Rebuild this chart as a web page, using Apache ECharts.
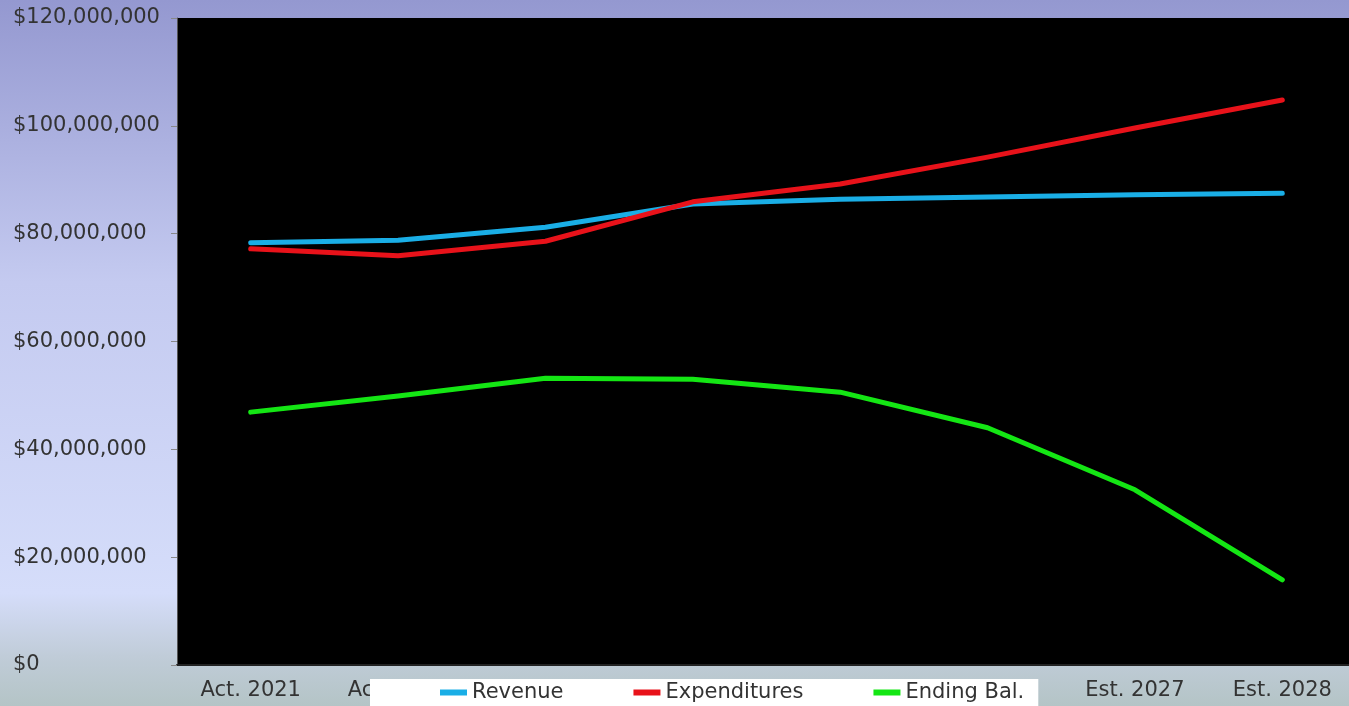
<!DOCTYPE html>
<html>
<head>
<meta charset="utf-8">
<script src="https://cdn.jsdelivr.net/npm/echarts@6/dist/echarts.min.js"></script>
<style>
  html, body { margin: 0; padding: 0; overflow: hidden; }
  #container { width: 1356px; height: 706px; }
</style>
</head>
<body>
<div id="container"></div>
<script>
// chart values (in dollars)
const years = ['Act. 2021', 'Act. 2022', 'Act. 2023', 'Est. 2024', 'Est. 2025', 'Est. 2026', 'Est. 2027', 'Est. 2028'];
const revenue = [78300000, 78800000, 81200000, 85500000, 86400000, 86800000, 87200000, 87500000];
const expenditures = [77200000, 75900000, 78600000, 85900000, 89200000, 94200000, 99600000, 104800000];
const endingBal = [46900000, 49900000, 53200000, 53000000, 50600000, 44000000, 32500000, 15800000];
const yTicks = [0, 20000000, 40000000, 60000000, 80000000, 100000000, 120000000];

// plot runs a few px past the window on the right, like the screenshot
const chart = echarts.init(document.getElementById('container'), null, { renderer: 'canvas' });

const money = v => '$' + Number(v).toLocaleString('en-US');
const lineStyle = color => ({ color: color, width: 5, cap: 'round', join: 'round' });

const option = {
    backgroundColor: {
        type: 'linear', x: 0, y: 0, x2: 0, y2: 1,
        colorStops: [
            { offset: 0, color: '#9498d0' },
            { offset: 0.4, color: '#c4caf0' },
            { offset: 0.84, color: '#d5ddfa' },
            { offset: 0.93, color: '#c0ccd8' },
            { offset: 1, color: '#b4c4c6' }
        ]
    },
    animation: false,
    textStyle: { fontFamily: 'DejaVu Sans' },
    grid: {
        left: 177, top: 18, right: 0, bottom: 41,
        show: true, backgroundColor: '#000', borderWidth: 0
    },
    legend: {
        left: 370, top: 679,
        backgroundColor: '#fff',
        borderRadius: 0,
        padding: [3, 14, 14, 70],
        itemGap: 70,
        itemWidth: 27, itemHeight: 6,
        icon: 'rect',
        z: 10,
        textStyle: { fontSize: 21, color: '#333', fontFamily: 'DejaVu Sans' },
        data: [
            { name: 'Revenue' },
            { name: 'Expenditures' },
            { name: 'Ending Bal.$', textStyle: { width: 126, overflow: 'truncate', ellipsis: '' } }
        ]
    },
    xAxis: {
        type: 'category',
        data: years,
        boundaryGap: true,
        axisLine: { lineStyle: { color: '#222', width: 2 } },
        axisTick: { length: 6, lineStyle: { color: '#111', width: 2 } },
        axisLabel: { color: '#333', fontSize: 21, margin: 15 },
        splitLine: { show: false }
    },
    yAxis: {
        type: 'value',
        min: yTicks[0],
        max: yTicks[yTicks.length - 1],
        interval: yTicks[1] - yTicks[0],
        axisLine: { show: true, lineStyle: { color: '#555', width: 1 } },
        axisTick: { show: true, length: 6, lineStyle: { color: '#888' } },
        axisLabel: { color: '#333', fontSize: 21, align: 'left', margin: 164, formatter: money },
        splitLine: { show: false }
    },
    series: [
        { name: 'Revenue', type: 'line', data: revenue, showSymbol: false, symbol: 'none', itemStyle: { color: '#1aaee6' }, lineStyle: lineStyle('#1aaee6') },
        { name: 'Expenditures', type: 'line', data: expenditures, showSymbol: false, symbol: 'none', itemStyle: { color: '#e8121a' }, lineStyle: lineStyle('#e8121a') },
        { name: 'Ending Bal.$', type: 'line', data: endingBal, showSymbol: false, symbol: 'none', itemStyle: { color: '#14e614' }, lineStyle: lineStyle('#14e614') }
    ]
};

chart.setOption(option);
window.addEventListener('resize', () => chart.resize());
</script>
</body>
</html>
